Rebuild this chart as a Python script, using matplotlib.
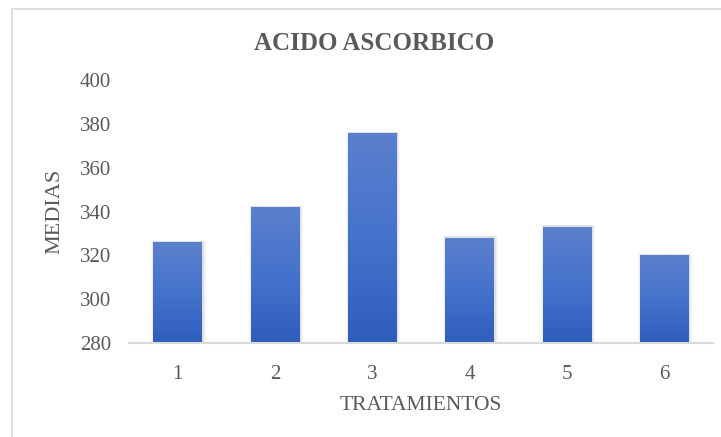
import matplotlib.pyplot as plt
import matplotlib.patches as patches
from matplotlib.colors import LinearSegmentedColormap
import numpy as np

plt.rcParams['font.family'] = ['Liberation Serif', 'DejaVu Serif']

tratamientos = ["1", "2", "3", "4", "5", "6"]
medias = [326, 342, 376, 328, 333, 320]

fig = plt.figure(figsize=(7.21, 4.37), dpi=100)
ax = fig.add_axes([0.179, 0.216, 0.810, 0.600])

# outer chart frame
frame = patches.Rectangle((12 / 721, -0.1), 1.2, 1.1 - 9 / 437, transform=fig.transFigure,
                          fill=False, edgecolor="#D9D9D9", lw=1.2)
fig.patches.append(frame)

x = np.arange(len(medias))
width = 0.5
ymin, ymax = 280, 400
cmap = LinearSegmentedColormap.from_list("azul", ["#2E5EBC", "#4572CC", "#5B80CC"])
grad = np.linspace(0, 1, 256).reshape(-1, 1)

for xi, v in zip(x, medias):
    # soft drop shadow
    for k, a in [(0.06, 0.05), (0.04, 0.08), (0.02, 0.12)]:
        ax.bar(xi + 0.008, v - ymin + 0.6, width + k, bottom=ymin, color="#808080",
               alpha=a, lw=0, zorder=1)
    bar = ax.bar(xi, v - ymin, width, bottom=ymin, color="none", lw=0, zorder=2)[0]
    im = ax.imshow(grad, cmap=cmap, aspect="auto", origin="lower",
                   extent=[xi - width / 2, xi + width / 2, ymin, v], zorder=2)
    im.set_clip_path(bar)

ax.set_xlim(-0.5, len(medias) - 0.5)
ax.set_ylim(ymin, ymax)
ax.set_yticks(range(280, 401, 20))
ax.set_xticks(x)
ax.set_xticklabels(tratamientos)
ax.tick_params(length=0, labelsize=15, colors="#595959")
ax.tick_params(axis="x", pad=16)
ax.tick_params(axis="y", pad=13)
for s in ["top", "right", "left"]:
    ax.spines[s].set_visible(False)
ax.spines["bottom"].set_color("#D9D9D9")
ax.spines["bottom"].set_linewidth(1.5)
ax.spines["bottom"].set_zorder(3)

ax.set_xlabel("TRATAMIENTOS", fontsize=15.5, color="#595959", labelpad=9)
ax.set_ylabel("MEDIAS", fontsize=16, color="#595959", labelpad=11)
fig.text(374 / 721, 1 - 43.5 / 437, "ACIDO ASCORBICO", ha="center", va="center",
         fontsize=18, fontweight="bold", color="#595959")

fig.savefig("out.png", dpi=100)
